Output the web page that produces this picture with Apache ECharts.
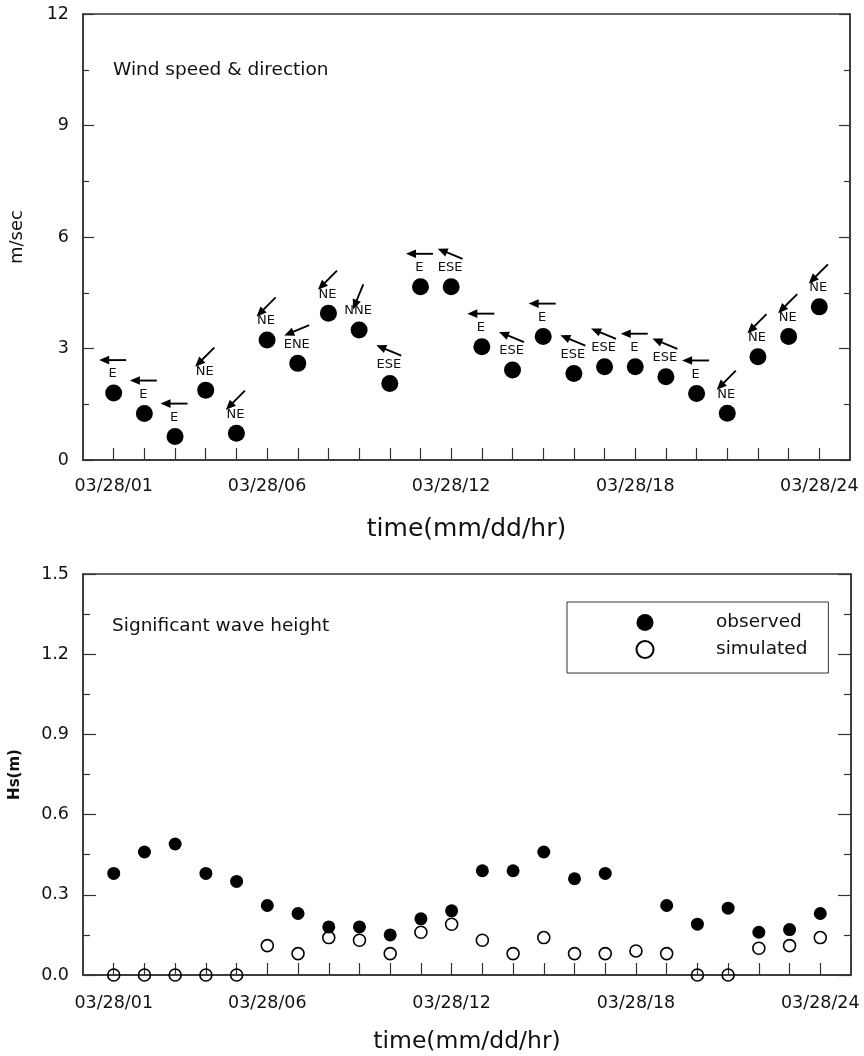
<!DOCTYPE html>
<html>
<head>
<meta charset="utf-8">
<script src="https://cdn.jsdelivr.net/npm/echarts@6/dist/echarts.min.js"></script>
<style>
  html, body { margin: 0; padding: 0; background: #fff; }
  #chart { width: 864px; height: 1056px; }
</style>
</head>
<body>
<div id="chart"></div>
<script>
// ---- data ----
const hours = [1,2,3,4,5,6,7,8,9,10,11,12,13,14,15,16,17,18,19,20,21,22,23,24];
const tickLabelHours = [1, 6, 12, 18, 24];
const tickLabels = ['03/28/01', '03/28/06', '03/28/12', '03/28/18', '03/28/24'];
const windSpeed = [1.80, 1.25, 0.63, 1.88, 0.72, 3.23, 2.60, 3.95, 3.50, 2.06, 4.66, 4.66,
                   3.05, 2.42, 3.32, 2.33, 2.51, 2.51, 2.24, 1.79, 1.26, 2.78, 3.32, 4.12];
const windDir = ['E','E','E','NE','NE','NE','ENE','NE','NNE','ESE','E','ESE',
                 'E','ESE','E','ESE','ESE','E','ESE','E','NE','NE','NE','NE'];
const hsObserved = [0.38, 0.46, 0.49, 0.38, 0.35, 0.26, 0.23, 0.18, 0.18, 0.15, 0.21, 0.24,
                    0.39, 0.39, 0.46, 0.36, 0.38, null, 0.26, 0.19, 0.25, 0.16, 0.17, 0.23];
const hsSimulated = [0, 0, 0, 0, 0, 0.11, 0.08, 0.14, 0.13, 0.08, 0.16, 0.19,
                     0.13, 0.08, 0.14, 0.08, 0.08, 0.09, 0.08, 0, 0, 0.10, 0.11, 0.14];
const windTicks = ['0', '3', '6', '9', '12'];
const hsTicks = ['0.0', '0.3', '0.6', '0.9', '1.2', '1.5'];

// compass bearing of "from" direction
const compass = { N: 0, NNE: 22.5, NE: 45, ENE: 67.5, E: 90, ESE: 112.5, SE: 135, SSE: 157.5,
                  S: 180, SSW: 202.5, SW: 225, WSW: 247.5, W: 270, WNW: 292.5, NW: 315, NNW: 337.5 };

const FONT = 'DejaVu Sans';
const AXC = '#333';

function pairs(xs, ys) {
  const out = [];
  xs.forEach((x, i) => { if (ys[i] !== null && ys[i] !== undefined) out.push([x, ys[i]]); });
  return out;
}

function xAxisFor(gridIndex, margin, nameGap, nameSize) {
  return {
    type: 'value', gridIndex: gridIndex, min: 0, max: 25, interval: 1,
    axisLine: { show: true, onZero: false, lineStyle: { color: AXC, width: 1.5 } },
    axisTick: { show: true, inside: true, length: 12, customValues: hours,
                lineStyle: { color: AXC, width: 1.2 } },
    axisLabel: { show: true, customValues: tickLabelHours, margin: margin,
                 fontFamily: FONT, fontSize: 17.5, color: '#111',
                 formatter: v => { const i = tickLabelHours.indexOf(v); return i >= 0 ? tickLabels[i] : ''; } },
    splitLine: { show: false },
    name: 'time(mm/dd/hr)', nameLocation: 'middle', nameGap: nameGap,
    nameTextStyle: { fontFamily: FONT, fontSize: nameSize, color: '#111' }
  };
}

function yAxisFor(gridIndex, pos, max, interval, labels, tickLens, opts) {
  return Object.assign({
    type: 'value', gridIndex: gridIndex, position: pos, min: 0, max: max, interval: interval,
    axisLine: { show: true, onZero: false, lineStyle: { color: AXC, width: 1.5 } },
    axisTick: { show: true, inside: true, length: tickLens[0], lineStyle: { color: AXC, width: 1.2 } },
    minorTick: { show: true, splitNumber: 2, length: tickLens[1], lineStyle: { color: AXC, width: 1.2 } },
    axisLabel: { show: pos === 'left', margin: 14, fontFamily: FONT, fontSize: 17.5, color: '#111',
                 formatter: v => labels[Math.round(v / interval)] },
    splitLine: { show: false }
  }, opts || {});
}

const chart = echarts.init(document.getElementById('chart'), null, { renderer: 'canvas' });

const option = {
  backgroundColor: '#fff',
  animation: false,
  title: [
    { text: 'Wind speed & direction', left: 113, top: 61, padding: 0,
      textStyle: { fontFamily: FONT, fontSize: 18.5, fontWeight: 'normal', color: '#111' } },
    { text: 'Significant wave height', left: 112, top: 617, padding: 0,
      textStyle: { fontFamily: FONT, fontSize: 18.5, fontWeight: 'normal', color: '#111' } }
  ],
  legend: {
    data: ['observed', 'simulated'],
    orient: 'vertical', left: 567, top: 602,
    padding: [11, 21, 14, 68.5],
    itemWidth: 132, itemHeight: 17, itemGap: 8,
    borderColor: '#333', borderWidth: 1,
    selectedMode: false,
    textStyle: { fontFamily: FONT, fontSize: 18.5, color: '#111' }
  },
  grid: [
    { left: 76, top: 14, width: 774, height: 446, show: true, borderColor: AXC, borderWidth: 1.5 },
    { left: 72, top: 574, width: 779, height: 401, show: true, borderColor: AXC, borderWidth: 1.5 }
  ],
  xAxis: [
    xAxisFor(0, 17, 57, 25),
    xAxisFor(1, 19, 55, 23.5)
  ],
  yAxis: [
    yAxisFor(0, 'left', 12, 3, windTicks, [11, 6], {
      name: 'm/sec', nameLocation: 'middle', nameGap: 57, nameRotate: 90,
      nameTextStyle: { fontFamily: FONT, fontSize: 18, color: '#111' } }),
    yAxisFor(0, 'right', 12, 3, windTicks, [11, 6]),
    yAxisFor(1, 'left', 1.5, 0.3, hsTicks, [13, 7], {
      name: 'Hs(m)', nameLocation: 'middle', nameGap: 60, nameRotate: 90,
      nameTextStyle: { fontFamily: FONT, fontSize: 15, fontWeight: 'bold', color: '#111' } }),
    yAxisFor(1, 'right', 1.5, 0.3, hsTicks, [13, 7])
  ],
  series: [
    {
      name: 'wind speed', type: 'scatter', xAxisIndex: 0, yAxisIndex: 0,
      symbol: 'circle', symbolSize: 17, clip: false,
      itemStyle: { color: '#000', opacity: 1 },
      data: pairs(hours, windSpeed), z: 5
    },
    {
      name: 'wind direction', type: 'custom', xAxisIndex: 0, yAxisIndex: 0, clip: false,
      data: pairs(hours, windSpeed),
      encode: { x: 0, y: 1 },
      renderItem: function (params, api) {
        const p = api.coord([api.value(0), api.value(1)]);
        const dir = windDir[params.dataIndex];
        const toward = (compass[dir] + 180) * Math.PI / 180;
        const ux = Math.sin(toward), uy = -Math.cos(toward);
        const L = 27, headLen = 10, headHalf = 4.3;
        const cx = p[0] - 1, cy = p[1] - 33;
        const tx = cx - ux * L / 2, ty = cy - uy * L / 2;
        const hx = cx + ux * L / 2, hy = cy + uy * L / 2;
        const bx = hx - ux * headLen, by = hy - uy * headLen;
        const nx = -uy, ny = ux;
        return {
          type: 'group',
          children: [
            { type: 'line', shape: { x1: tx, y1: ty, x2: bx + ux * 2, y2: by + uy * 2 },
              style: { stroke: '#000', lineWidth: 1.9 } },
            { type: 'polygon',
              shape: { points: [[hx, hy], [bx + nx * headHalf, by + ny * headHalf], [bx - nx * headHalf, by - ny * headHalf]] },
              style: { fill: '#000' } },
            { type: 'text', x: p[0] - 1, y: p[1] - 19,
              style: { text: dir, fill: '#111', font: '13px "DejaVu Sans"', align: 'center', verticalAlign: 'middle' } }
          ]
        };
      },
      z: 6
    },
    {
      name: 'observed', type: 'scatter', xAxisIndex: 1, yAxisIndex: 2,
      symbol: 'circle', symbolSize: 13, clip: false,
      itemStyle: { color: '#000', opacity: 1 },
      data: pairs(hours, hsObserved), z: 5
    },
    {
      name: 'simulated', type: 'scatter', xAxisIndex: 1, yAxisIndex: 2,
      symbol: 'circle', symbolSize: 12, clip: false,
      itemStyle: { color: 'rgba(255,255,255,0)', borderColor: '#000', borderWidth: 1.6, opacity: 1 },
      data: pairs(hours, hsSimulated), z: 5
    }
  ]
};

chart.setOption(option);
</script>
</body>
</html>
